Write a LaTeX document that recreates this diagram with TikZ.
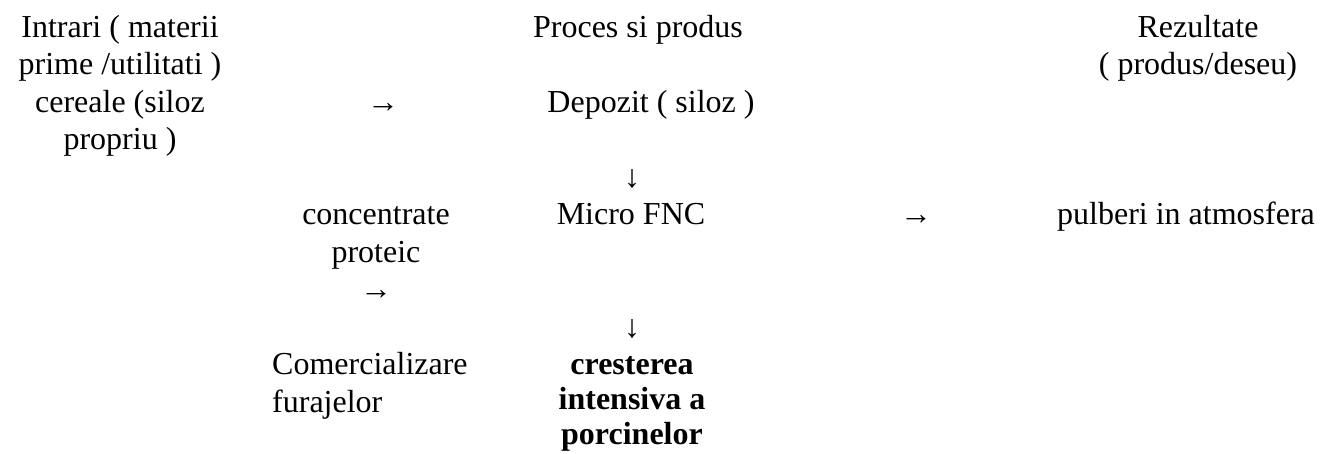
\documentclass[tikz,border=0pt]{standalone}
\usepackage{fontspec}
\setmainfont{Liberation Serif}
\begin{document}
\begin{tikzpicture}[x=1pt,y=-1pt,
  txt/.style={inner sep=0pt, font=\fontsize{32}{37.5}\selectfont},
  line/.style={txt, anchor=base},
  blk/.style={txt, anchor=north, align=center},
  glyph/.style={txt, anchor=base}]
\useasboundingbox (0,0) rectangle (1341,453);
% column headings and left input block
\node[blk] (inputs) at (120,10.75) {\strut Intrari ( materii\\prime /utilitati )\\cereale (siloz\\propriu )};
\node[line] (proces) at (638,37) {Proces si produs};
\node[blk] (rezultate) at (1198,10.75) {\strut Rezultate\\( produs/deseu)};
% storage row
\node[glyph] (arrA) at (383,112) {→};
\node[line] (depozit) at (651,112) {Depozit ( siloz )};
\node[glyph] (arrB) at (632,187) {↓};
% mill row
\node[blk] (concentrate) at (376,198.25) {\strut concentrate\\proteic};
\node[line] (micro) at (631,224.5) {Micro FNC};
\node[glyph] (arrC) at (916,224.5) {→};
\node[line] (pulberi) at (1186,224.5) {pulberi in atmosfera};
\node[glyph] (arrD) at (376,299.5) {→};
\node[glyph] (arrE) at (632,337) {↓};
% outputs
\node[txt, anchor=north west, align=left] (comert) at (272,348.25) {\strut Comercializare\\furajelor};
\node[blk, font=\fontsize{32}{35}\selectfont\bfseries] (porci) at (632,349.5) {\strut cresterea\\intensiva a\\porcinelor};
\end{tikzpicture}
\end{document}
